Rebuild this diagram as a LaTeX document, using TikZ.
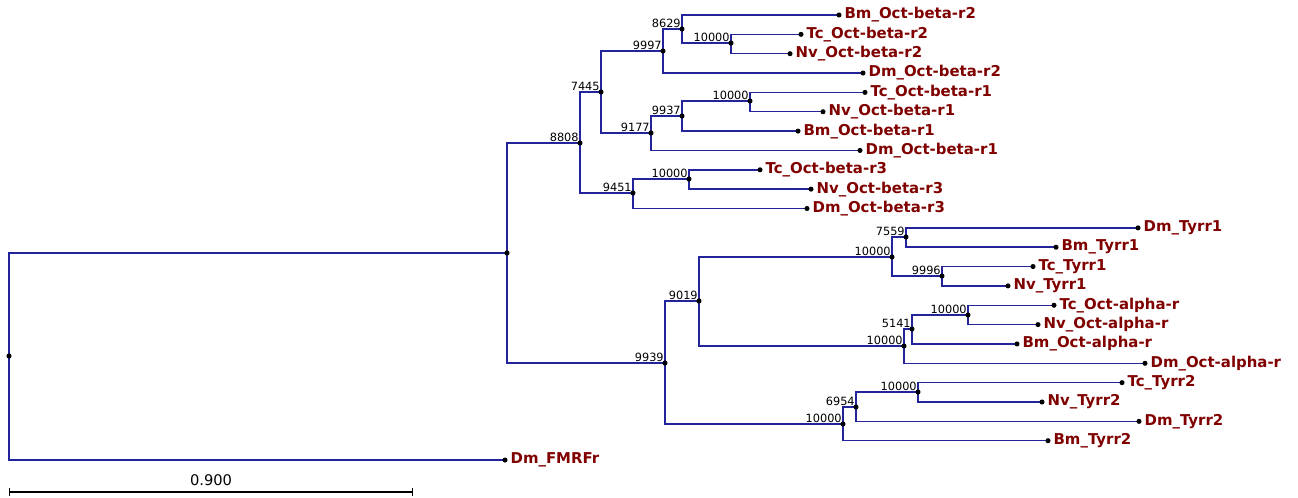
\documentclass[tikz,border=0pt]{standalone}
\usepackage{fontspec}
\setmainfont{DejaVu Sans}
\definecolor{treeblue}{RGB}{35,35,155}
\definecolor{taxred}{RGB}{128,0,0}
\usetikzlibrary{positioning,arrows.meta}

\begin{document}
\begin{tikzpicture}[
  x=0.75pt, y=-0.75pt,
  branch/.style={draw=treeblue, line width=1.1pt},
  taxon/.style={anchor=west, inner sep=0pt, xshift=4pt, text=taxred, font=\fontsize{11.2}{13}\selectfont\bfseries},
  boot/.style={anchor=south east, inner sep=0.8pt, font=\fontsize{8.5}{10}\selectfont},
  scalebar/.style={{Bar[width=6pt]}-{Bar[width=6pt]}, line width=0.9pt}
]
\useasboundingbox (0,0) rectangle (1298,498);

% leaves, top to bottom
\foreach \n/\x/\t [count=\i from 0] in {
  bmb2/839/Bm\_Oct-beta-r2,
  tcb2/801/Tc\_Oct-beta-r2,
  nvb2/790/Nv\_Oct-beta-r2,
  dmb2/863/Dm\_Oct-beta-r2,
  tcb1/865/Tc\_Oct-beta-r1,
  nvb1/823/Nv\_Oct-beta-r1,
  bmb1/798/Bm\_Oct-beta-r1,
  dmb1/860/Dm\_Oct-beta-r1,
  tcb3/760/Tc\_Oct-beta-r3,
  nvb3/811/Nv\_Oct-beta-r3,
  dmb3/807/Dm\_Oct-beta-r3,
  dmt1/1138/Dm\_Tyrr1,
  bmt1/1056/Bm\_Tyrr1,
  tct1/1033/Tc\_Tyrr1,
  nvt1/1008/Nv\_Tyrr1,
  tca/1054/Tc\_Oct-alpha-r,
  nva/1038/Nv\_Oct-alpha-r,
  bma/1017/Bm\_Oct-alpha-r,
  dma/1145/Dm\_Oct-alpha-r,
  tct2/1122/Tc\_Tyrr2,
  nvt2/1042/Nv\_Tyrr2,
  dmt2/1139/Dm\_Tyrr2,
  bmt2/1048/Bm\_Tyrr2,
  fmrf/505/Dm\_FMRFr}
{
  \coordinate (\n) at (\x,{15+19.35*\i});
  \node[taxon] (t\n) at (\n) {\t};
}

% internal nodes
\coordinate (root) at (9,356);
\coordinate (ingrp) at (507,253);
\coordinate (n8808) at (580,143);
\coordinate (n7445) at (601,92);
\coordinate (n9997) at (663,51);
\coordinate (n8629) at (682,29);
\coordinate (cb2) at (731,43);
\coordinate (n9177) at (651,133);
\coordinate (n9937) at (682,116);
\coordinate (cb1) at (750,101);
\coordinate (n9451) at (633,193);
\coordinate (cb3) at (689,179);
\coordinate (n9939) at (665,363);
\coordinate (n9019) at (699,301);
\coordinate (ct1) at (892,257);
\coordinate (n7559) at (906,237);
\coordinate (n9996) at (942,276);
\coordinate (ca) at (904,346);
\coordinate (n5141) at (912,329);
\coordinate (cta) at (968,315);
\coordinate (ct2) at (843,424);
\coordinate (n6954) at (856,407);
\coordinate (ct2b) at (918,392);

% branches
\foreach \p/\c in {root/ingrp, root/fmrf, ingrp/n8808, ingrp/n9939,
  n8808/n7445, n8808/n9451, n7445/n9997, n7445/n9177,
  n9997/n8629, n9997/dmb2, n8629/bmb2, n8629/cb2, cb2/tcb2, cb2/nvb2,
  n9177/n9937, n9177/dmb1, n9937/cb1, n9937/bmb1, cb1/tcb1, cb1/nvb1,
  n9451/cb3, n9451/dmb3, cb3/tcb3, cb3/nvb3,
  n9939/n9019, n9939/ct2, n9019/ct1, n9019/ca,
  ct1/n7559, ct1/n9996, n7559/dmt1, n7559/bmt1, n9996/tct1, n9996/nvt1,
  ca/n5141, ca/dma, n5141/cta, n5141/bma, cta/tca, cta/nva,
  ct2/n6954, ct2/bmt2, n6954/ct2b, n6954/dmt2, ct2b/tct2, ct2b/nvt2}
  \draw[branch] (\p) |- (\c);

% dots
\foreach \c in {root, ingrp, n8808, n7445, n9997, n8629, cb2, n9177, n9937, cb1,
  n9451, cb3, n9939, n9019, ct1, n7559, n9996, ca, n5141, cta, ct2, n6954, ct2b,
  bmb2, tcb2, nvb2, dmb2, tcb1, nvb1, bmb1, dmb1, tcb3, nvb3, dmb3,
  dmt1, bmt1, tct1, nvt1, tca, nva, bma, dma, tct2, nvt2, dmt2, bmt2, fmrf}
  \fill (\c) circle[radius=1.9pt];

% support values
\foreach \c/\v in {n8808/8808, n7445/7445, n9997/9997, n8629/8629, cb2/10000,
  n9177/9177, n9937/9937, cb1/10000, n9451/9451, cb3/10000,
  n9939/9939, n9019/9019, ct1/10000, n7559/7559, n9996/9996,
  ca/10000, n5141/5141, cta/10000, ct2/10000, n6954/6954, ct2b/10000}
  \node[boot] at (\c) {\v};

% scale bar
\coordinate (sbl) at (9,492);
\coordinate (sbr) at (413,492);
\draw[scalebar] (sbl) -- node[above=1pt, font=\fontsize{11}{13}\selectfont] (sblab) {0.900} (sbr);
\end{tikzpicture}
\end{document}
